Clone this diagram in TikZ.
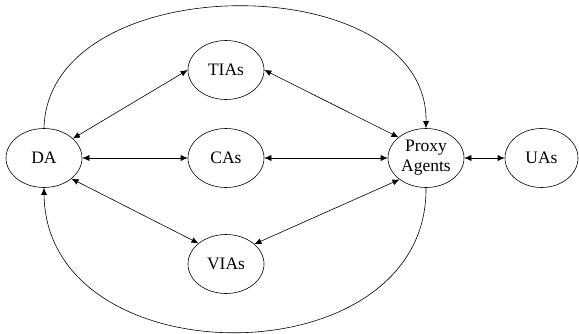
\documentclass[tikz,border=0pt]{standalone}
\usepackage{fontspec}
\setmainfont{Liberation Serif}
\usetikzlibrary{shapes.geometric,arrows.meta}
\begin{document}
\begin{tikzpicture}[x=1pt,y=-1pt,
  agent/.style={ellipse,draw,line width=0.6pt,minimum width=76pt,minimum height=59pt,
    inner sep=0pt,font=\fontsize{17.5}{20}\selectfont,align=center},
  link/.style={line width=0.6pt,{Latex[length=7pt,width=6pt]}-{Latex[length=7pt,width=6pt]}},
  oneway/.style={line width=0.6pt,-{Latex[length=7pt,width=6pt]}}]
\useasboundingbox (0,0) rectangle (579,333);
\node[agent] (da) at (44,158) {DA};
\node[agent] (tia) at (226,70) {TIAs};
\node[agent] (ca) at (226,158) {CAs};
\node[agent] (via) at (226,264) {VIAs};
\node[agent] (pa) at (426,158) {Proxy\\Agents};
\node[agent,minimum width=73pt] (ua) at (541.5,158) {UAs};
% straight two-way links
\draw[link] (da.34) -- (tia.west);
\draw[link] (tia.east) -- (pa.143);
\draw[link] (da.east) -- (ca.west);
\draw[link] (ca.east) -- (pa.west);
\draw[link] (pa.east) -- (ua.west);
\draw[link] (da.-37) -- (via.143);
\draw[link] (via.35) -- (pa.-141);
% outer arcs
\draw[oneway] (da.north) .. controls (48,-34) and (428,-34) .. (pa.north);
\draw[oneway] (pa.south) .. controls (428,380) and (46,380) .. (da.south);
\end{tikzpicture}
\end{document}
